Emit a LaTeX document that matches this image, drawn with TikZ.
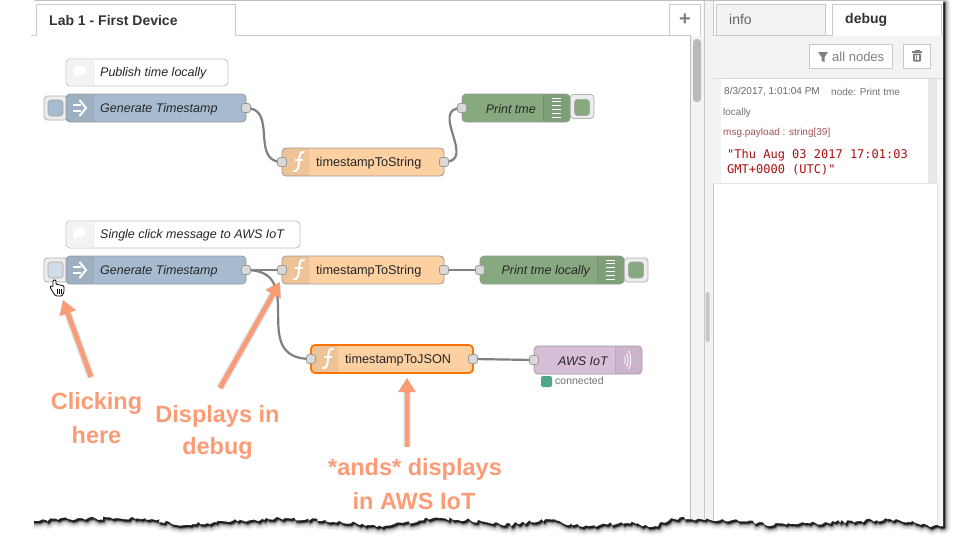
\documentclass[tikz,border=0pt]{standalone}
\usepackage{fontspec}
\setmainfont{Liberation Sans}
\newfontfamily\monof{DejaVu Sans Mono}
\usetikzlibrary{arrows.meta,decorations.pathmorphing}
\pgfdeclarelayer{paperlayer}
\pgfdeclarelayer{wirelayer}
\pgfsetlayers{paperlayer,wirelayer,main}
\definecolor{nblue}{HTML}{A6BBCF}
\definecolor{nblueh}{HTML}{D2DCE6}
\definecolor{norange}{HTML}{FDD0A2}
\definecolor{ngreen}{HTML}{87A980}
\definecolor{npurple}{HTML}{D8BFD8}
\definecolor{salmon}{HTML}{FC9C77}
\definecolor{edgegrey}{HTML}{C9C9C9}
\definecolor{panelgrey}{HTML}{F3F3F3}
\tikzset{
  x=1pt,y=-1pt,
  flowbox/.style={draw=#1,line width=.8pt,rounded corners=4pt,inner sep=0pt,minimum height=28pt},
  flowbox/.default={black!40},
  portdot/.style={draw=black!40,fill=black!15,line width=.8pt,rounded corners=2.5pt,inner sep=0pt,minimum width=9pt,minimum height=9pt},
  btnouter/.style={draw=black!30,fill=black!7,line width=.8pt,rounded corners=3.5pt,inner sep=0pt,minimum width=24pt,minimum height=24pt},
  btninner/.style={draw=black!35,line width=.6pt,rounded corners=3pt,inner sep=0pt,minimum width=15pt,minimum height=16pt},
  wire/.style={draw=black!50,line width=2.2pt},
  nlabel/.style={font=\fontsize{12.7}{15}\selectfont,text=black!85,inner sep=0pt,yshift=-1pt},
  ilabel/.style={nlabel,font=\fontsize{12.5}{15}\selectfont\itshape},
  callout/.style={font=\fontsize{23.5}{26}\selectfont\bfseries,text=salmon,inner sep=0pt,yshift=-2pt},
  dbg/.style={font=\fontsize{10}{12}\selectfont,text=black!60,inner sep=0pt,anchor=west,yshift=-1pt},
  tabbox/.style={draw=edgegrey,line width=.9pt},
  toolbtn/.style={draw=edgegrey,fill=white,line width=.9pt},
  callarrow/.style={draw=salmon,line width=4.6pt,-{Triangle[length=14pt,width=16pt]}},
  callshadow/.style={draw=black,opacity=.07,line width=#1pt,-{Triangle[length=14pt,width=17pt]}},
}
% body of a flow node: #1 name, #2 x0, #3 x1, #4 centre y, #5 colour
\newcommand\flowbody[5]{%
  \pgfmathsetmacro\boxwd{#3-#2}\pgfmathsetmacro\boxmx{(#2+#3)/2}%
  \node[flowbox,fill=#5,minimum width=\boxwd pt] (#1) at (\boxmx,#4) {};}
% left icon section
\newcommand\leftsec[3]{%
  \fill[black,opacity=.06,rounded corners=3.5pt] (#1+27,#2-13.6) -- (#1+.4,#2-13.6) -- (#1+.4,#2+13.6) [sharp corners] -- (#1+27,#2+13.6) -- cycle;}
\newcommand\rightsec[2]{%
  \fill[black,opacity=.06,rounded corners=3.5pt] (#1-27,#2-13.6) -- (#1-.4,#2-13.6) -- (#1-.4,#2+13.6) [sharp corners] -- (#1-27,#2+13.6) -- cycle;}
\newcommand\funcicon[2]{%
  \draw[white,line width=2pt,line cap=round] (#1+9,#2-10) .. controls (#1+5,#2-11) and (#1+4.5,#2-7) .. (#1+4,#2-1) .. controls (#1+3.6,#2+5) and (#1+3,#2+10) .. (#1-1.5,#2+9);
  \draw[white,line width=1.6pt] (#1-.5,#2-2) -- (#1+8,#2-2);}
\newcommand\injecticon[2]{%
  \draw[white,line width=1.7pt] (#1-6,#2-3) -- (#1+2,#2-3) (#1-6,#2+3) -- (#1+2,#2+3);
  \draw[white,line width=2pt] (#1+.5,#2-8) -- (#1+7,#2) -- (#1+.5,#2+8);}
\newcommand\debugicon[2]{%
  \foreach \k in {-10,-6.2,-2.4,1.4,5.2,9}{\draw[white,line width=.9pt] (#1-4.5,#2+\k) -- (#1+4.5,#2+\k);}}
\newcommand\commenticon[2]{%
  \fill[white] (#1,#2) ellipse [x radius=6.5pt,y radius=4.5pt];
  \fill[white] (#1-5,#2+2) -- (#1-6,#2+7) -- (#1-1,#2+4) -- cycle;}
\newcommand\papershape{%
  (31,1) -- (943,1) -- (943,526) decorate[decoration={random steps,segment length=2.8pt,amplitude=1.9pt}]{
  -- (927,525) -- (896,519) -- (835,522) -- (774,525) -- (732,520) -- (671,518) -- (655,526) -- (628,523) -- (579,526)
  -- (549,519) -- (506,525) -- (470,520) -- (433,518) -- (384,526) -- (341,522) -- (287,518) -- (232,521) -- (177,525)
  -- (152,519) -- (116,518) -- (79,518) -- (33,521)} -- cycle}
\begin{document}
\begin{tikzpicture}
\useasboundingbox (0,0) rectangle (954,538);
\begin{pgfonlayer}{paperlayer}
\fill[white] (0,0) rectangle (954,538);
\begin{scope}
  \clip (34,0) rectangle (954,538);
  \foreach \w/\o in {12/.05,9/.08,6/.14,3.5/.28,1.5/.45}{
    \pgfmathsetseed{7}
    \begin{scope}[shift={(1.5,2)}]
    \path[fill=black,draw=black,line join=round,opacity=\o,line width=\w pt] \papershape;
    \end{scope}
  }
\end{scope}
\pgfmathsetseed{7}
\fill[white] \papershape;
\begin{scope}
  \pgfmathsetseed{7}
  \clip \papershape;
  % workspace frame
  \draw[edgegrey,line width=1.4pt] (31,0.7) -- (943,0.7);
  \fill[panelgrey] (690,36) rectangle (703,540);
  \fill[panelgrey] (703,0) rectangle (713,540);
  \draw[black!25,line width=.8pt] (690,35) -- (690,540);
  \draw[edgegrey,line width=.9pt] (704,0) -- (704,540);
  \draw[edgegrey,line width=.9pt] (713,0) -- (713,540);
  % sidebar message area
  \fill[panelgrey] (713,35) rectangle (943,78);
  \draw[black!15,line width=.8pt] (713,78) -- (943,78);
  \fill[panelgrey] (713,79) rectangle (721,183);
  \fill[black!9] (928,79) rectangle (937,183);
  \fill[black!3] (937,79) rectangle (943,540);
  \draw[black!10,line width=.8pt] (713,183.5) -- (937,183.5);
  \draw[black!10,line width=.8pt] (937,183) -- (937,540);
\end{scope}
\end{pgfonlayer}

% tabs
\draw[edgegrey,line width=.9pt] (31,35.5) -- (690,35.5);
\fill[white] (36,4) rectangle (235,36.5);
\draw[tabbox] (36.5,36) -- (36.5,4.5) -- (235.5,4.5) -- (235.5,36);
\node[font=\fontsize{14}{16}\selectfont\bfseries,text=black!80,inner sep=0pt,anchor=west] (tabmain) at (49,20) {Lab 1 - First Device};
\fill[white] (669,4) rectangle (700,35);
\draw[tabbox] (669.5,35.5) -- (669.5,4.5) -- (700.5,4.5) -- (700.5,35.5);
\node[font=\fontsize{20}{20}\selectfont\bfseries,text=black!50,inner sep=0pt] (tabplus) at (685,20) {+};
\fill[black!27,rounded corners=3.5pt] (693,39) rectangle (701,102);
\fill[black!22,rounded corners=2pt] (705.5,292) rectangle (709.5,342);

\fill[panelgrey] (716,4) rectangle (826,35);
\draw[tabbox] (716.5,35) -- (716.5,4.5) -- (825.5,4.5) -- (825.5,35);
\draw[edgegrey,line width=.9pt] (713,35.5) -- (832,35.5);
\node[font=\fontsize{14}{16}\selectfont,text=black!60,inner sep=0pt,anchor=west] (tabinfo) at (729,19) {info};
\fill[white] (832,4) rectangle (941,36);
\draw[tabbox] (832.5,35.5) -- (832.5,4.5) -- (941.5,4.5) -- (941.5,35.5);
\node[font=\fontsize{14}{16}\selectfont\bfseries,text=black!80,inner sep=0pt,anchor=west] (tabdebug) at (845,20) {debug};

% debug toolbar
\draw[toolbtn] (809.5,44.5) rectangle (892.5,68.5);
\fill[black!50] (818,52) -- (828,52) -- (824.5,57) -- (824.5,62) -- (821.5,61) -- (821.5,57) -- cycle;
\node[font=\fontsize{13}{15}\selectfont,text=black!50,inner sep=0pt,anchor=west] (allnodes) at (832,57) {all nodes};
\draw[toolbtn] (903.5,44.5) rectangle (930.5,68.5);
\fill[black!50,rounded corners=.8pt] (913,53.5) rectangle (921,61.5);
\draw[black!50,line width=1.1pt] (912,52) -- (922,52);
\draw[black!50,line width=.8pt] (915,51.5) -- (915,50.7) -- (919,50.7) -- (919,51.5);
\draw[white,line width=.5pt] (915.4,55) -- (915.4,60) (917,55) -- (917,60) (918.6,55) -- (918.6,60);

% debug message
\node[dbg] (dbgdate) at (724,91) {8/3/2017, 1:01:04 PM};
\node[dbg,text=black!55] (dbgnode) at (831,91) {node: Print tme};
\node[dbg,text=black!55] (dbglocal) at (723,112) {locally};
\node[dbg,text={rgb,255:red,160;green,85;blue,85}] (dbgmsg) at (723,132) {msg.payload : string[39]};
\node[inner sep=0pt,anchor=west,yshift=-1pt,text={rgb,255:red,170;green,16;blue,16},font=\monof\fontsize{12}{14}\selectfont] (dbgv1) at (727,154) {"Thu Aug 03 2017 17:01:03};
\node[inner sep=0pt,anchor=west,yshift=-1pt,text={rgb,255:red,170;green,16;blue,16},font=\monof\fontsize{12}{14}\selectfont] (dbgv2) at (727,169) {GMT+0000 (UTC)"};

% comment nodes
\node[flowbox=black!25,fill=white,minimum width=162pt,minimum height=27pt] (c1) at (147,72.5) {};
\fill[panelgrey,rounded corners=3.5pt] (66.5,59.5) -- (93,59.5) [sharp corners] -- (93,85.5) [rounded corners=3.5pt] -- (66.5,85.5) -- cycle;
\draw[black!8,line width=.7pt] (93,60) -- (93,85);
\commenticon{79.5}{70.5}
\node[ilabel,anchor=west] (c1t) at (100,72) {Publish time locally};
\node[flowbox=black!25,fill=white,minimum width=234pt,minimum height=27pt] (c2) at (183,234.5) {};
\fill[panelgrey,rounded corners=3.5pt] (66.5,221.5) -- (93,221.5) [sharp corners] -- (93,247.5) [rounded corners=3.5pt] -- (66.5,247.5) -- cycle;
\draw[black!8,line width=.7pt] (93,222) -- (93,247);
\commenticon{79.5}{232.5}
\node[ilabel,anchor=west] (c2t) at (100,234) {Single click message to AWS IoT};

% flow 1
\node[btnouter] (btna) at (56,108) {};
\node[btninner,fill=nblue] (btnai) at (55.5,108) {};
\flowbody{gena}{66}{246}{108}{nblue}
\leftsec{66}{108}{}
\draw[black,opacity=.08,line width=.7pt] (93,95) -- (93,121);
\injecticon{79}{108}
\node[ilabel,anchor=west] (genat) at (100,108) {Generate Timestamp};
\node[portdot] (genap) at (246,108) {};

\flowbody{fa}{282}{444}{162}{norange}
\leftsec{282}{162}{}
\funcicon{295}{162}
\node[nlabel,anchor=west] (fat) at (316,162) {timestampToString};
\node[portdot] (fain) at (282,162) {};
\node[portdot] (faout) at (444,162) {};

\node[btnouter] (btnb) at (582,106.5) {};
\node[btninner,fill=ngreen] (btnbi) at (582,107.5) {};
\flowbody{pa}{462}{570}{108}{ngreen}
\rightsec{570}{108}
\draw[black,opacity=.08,line width=.7pt] (543,95) -- (543,121);
\debugicon{556.5}{108}
\node[ilabel,anchor=east] (pat) at (536,108) {Print tme};
\node[portdot] (pain) at (462,108) {};

% flow 2
\node[btnouter] (btnc) at (56,270) {};
\node[btninner,fill=nblueh] (btnci) at (55.5,270) {};
\flowbody{genb}{66}{246}{270}{nblue}
\leftsec{66}{270}{}
\draw[black,opacity=.08,line width=.7pt] (93,257) -- (93,283);
\injecticon{79}{270}
\node[ilabel,anchor=west] (genbt) at (100,270) {Generate Timestamp};
\node[portdot] (genbp) at (246,270) {};

\flowbody{fb}{282}{444}{270}{norange}
\leftsec{282}{270}{}
\funcicon{295}{270}
\node[nlabel,anchor=west] (fbt) at (316,270) {timestampToString};
\node[portdot] (fbin) at (282,270) {};
\node[portdot] (fbout) at (444,270) {};

\node[btnouter] (btnd) at (636,270) {};
\node[btninner,fill=ngreen] (btndi) at (636,270) {};
\flowbody{pb}{480}{624}{270}{ngreen}
\rightsec{624}{270}
\draw[black,opacity=.08,line width=.7pt] (597,257) -- (597,283);
\debugicon{610.5}{270}
\node[ilabel,anchor=east] (pbt) at (590,270) {Print tme locally};
\node[portdot] (pbin) at (480,270) {};

\node[flowbox=orange!90!red,line width=1.8pt,fill=norange,minimum width=162pt] (fc) at (392,359) {};
\fill[black,opacity=.06,rounded corners=3.5pt] (338,346) -- (312,346) -- (312,372) [sharp corners] -- (338,372) -- cycle;
\funcicon{324}{359}
\node[nlabel,anchor=west] (fct) at (345,359) {timestampToJSON};
\node[portdot] (fcin) at (311,359) {};
\node[portdot] (fcout) at (473,359) {};

\flowbody{aws}{534}{642}{360}{npurple}
\rightsec{642}{360}
\draw[black,opacity=.08,line width=.7pt] (615,347) -- (615,373);
\draw[white,line width=.9pt] (624.5,356.5) .. controls (625.5,358.5) and (625.5,361.5) .. (624.5,363.5);
\draw[white,line width=.9pt] (626.5,353.5) .. controls (628.5,357.5) and (628.5,362.5) .. (626.5,366.5);
\draw[white,line width=.9pt] (628.5,350.5) .. controls (631.5,356.5) and (631.5,363.5) .. (628.5,369.5);
\node[ilabel,anchor=east] (awst) at (608,360) {AWS IoT};
\node[portdot] (awsin) at (534,360) {};
\fill[rounded corners=2pt,fill={rgb,255:red,80;green,168;blue,136}] (541,376) rectangle (552,387);
\node[font=\fontsize{10.5}{12}\selectfont,text=black!55,inner sep=0pt,anchor=west] (status) at (555,380.5) {connected};

% hand cursor
\filldraw[fill=white,draw=black,line width=.8pt,line join=round,rounded corners=1pt]
 (53,280) -- (53,287) -- (51,285.5) -- (50,287) -- (54,294) -- (56,296) -- (62,296) -- (64,292) -- (64,286) -- (62,285.5) -- (60,285) -- (58,284.5) -- (56,284.5) -- (56,280) -- cycle;
\draw[black,line width=.5pt] (57.5,289) -- (57.5,293.5) (59.5,289) -- (59.5,293.5) (61.5,289) -- (61.5,293.5);

% wires
\begin{pgfonlayer}{wirelayer}
\draw[wire] (genap.center) .. controls (278,108) and (250,162) .. (fain.center);
\draw[wire] (faout.center) .. controls (478,162) and (428,108) .. (pain.center);
\draw[wire] (genbp.center) -- (fbin.center);
\draw[wire] (fbout.center) -- (pbin.center);
\draw[wire] (genbp.center) .. controls (310,270) and (246,359) .. (fcin.center);
\draw[wire] (fcout.center) -- (awsin.center);
\end{pgfonlayer}

% callouts
\node[callout] (t1a) at (96.5,401) {Clicking};
\node[callout] (t1b) at (96.5,433) {here};
\node[callout] (t2a) at (217.5,414) {Displays in};
\node[callout] (t2b) at (217.5,446) {debug};
\node[callout] (t3a) at (415,467) {*ands* displays};
\node[callout] (t3b) at (414,499) {in AWS IoT};

\coordinate (a1s) at (91,377);
\coordinate (a1e) at (63,300);
\coordinate (a2s) at (220,388);
\coordinate (a2e) at (280,282);
\coordinate (a3s) at (407,447);
\coordinate (a3e) at (407,378);
\begin{scope}[shift={(1,2)}]
\foreach \lw in {8,6.5,5}{
\draw[callshadow=\lw] (a1s) -- (a1e);
\draw[callshadow=\lw] (a2s) -- (a2e);
\draw[callshadow=\lw] (a3s) -- (a3e);
}
\end{scope}
\draw[callarrow] (a1s) -- (a1e);
\draw[callarrow] (a2s) -- (a2e);
\draw[callarrow] (a3s) -- (a3e);
\end{tikzpicture}
\end{document}
